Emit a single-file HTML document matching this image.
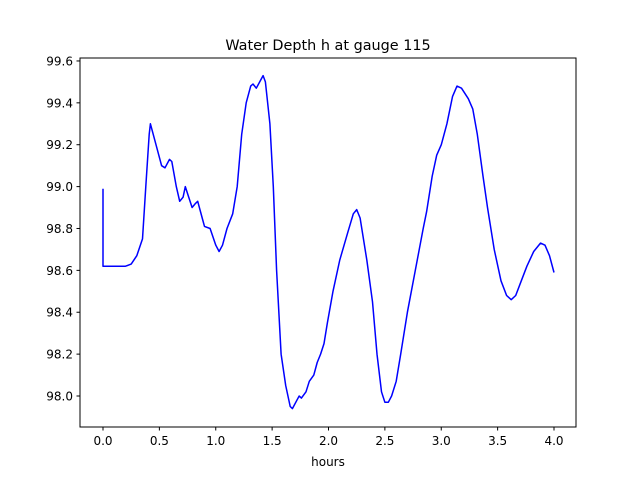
<!DOCTYPE html>
<html><head><meta charset="utf-8"><style>
body{margin:0;background:#fff;}
svg text{font-family:"DejaVu Sans","Liberation Sans",sans-serif;}
</style></head><body>
<svg id="chart" width="640" height="480">
<rect width="640" height="480" fill="#fff"/>
<text x="328" y="50" text-anchor="middle" font-size="14.4">Water Depth h at gauge 115</text>
<rect x="80" y="58" width="496" height="369" fill="none" stroke="#000" stroke-width="1"/>
<g id="xticks"></g>
<g id="yticks"></g>
<text x="328" y="466" text-anchor="middle" font-size="12">hours</text>
<polyline id="line" fill="none" stroke="#0000ff" stroke-width="1.5" stroke-linejoin="round"/>
</svg>
<script>
const hours=[0,0,0.1,0.2,0.25,0.3,0.35,0.38,0.41,0.42,0.47,0.52,0.55,0.59,0.61,0.65,0.68,0.71,0.73,0.76,0.79,0.82,0.84,0.88,0.9,0.95,1.0,1.03,1.06,1.1,1.15,1.19,1.23,1.27,1.31,1.33,1.36,1.39,1.42,1.44,1.48,1.51,1.54,1.58,1.62,1.66,1.68,1.72,1.74,1.76,1.8,1.83,1.87,1.9,1.93,1.96,1.99,2.04,2.1,2.17,2.22,2.25,2.28,2.34,2.39,2.43,2.47,2.5,2.53,2.56,2.6,2.64,2.7,2.77,2.84,2.87,2.92,2.96,3.0,3.05,3.1,3.14,3.18,3.24,3.28,3.32,3.37,3.41,3.47,3.53,3.58,3.62,3.66,3.71,3.76,3.82,3.88,3.92,3.96,4.0];
const depth=[98.99,98.62,98.62,98.62,98.63,98.67,98.75,99.0,99.25,99.3,99.2,99.1,99.09,99.13,99.12,99.0,98.93,98.95,99.0,98.95,98.9,98.92,98.93,98.85,98.81,98.8,98.72,98.69,98.72,98.8,98.87,99.0,99.25,99.4,99.48,99.49,99.47,99.5,99.53,99.5,99.3,99.0,98.6,98.2,98.05,97.95,97.94,97.98,98.0,97.99,98.02,98.07,98.1,98.16,98.2,98.25,98.35,98.5,98.65,98.78,98.87,98.89,98.85,98.65,98.45,98.2,98.02,97.97,97.97,98.0,98.07,98.2,98.4,98.6,98.8,98.88,99.05,99.15,99.2,99.3,99.43,99.48,99.47,99.42,99.37,99.25,99.05,98.9,98.7,98.55,98.48,98.46,98.48,98.55,98.62,98.69,98.73,98.72,98.67,98.59];
const xTicks=["0.0","0.5","1.0","1.5","2.0","2.5","3.0","3.5","4.0"];
const yTicks=["98.0","98.2","98.4","98.6","98.8","99.0","99.2","99.4","99.6"];
const NS="http://www.w3.org/2000/svg";
const xs=v=>103+v*112.75;
const ys=v=>396-(v-98)*209.4;
function mk(t,a,p){const e=document.createElementNS(NS,t);for(const k in a)e.setAttribute(k,a[k]);p.appendChild(e);return e;}
const gx=document.getElementById('xticks'),gy=document.getElementById('yticks');
xTicks.forEach(t=>{const x=xs(parseFloat(t));
const l=mk('line',{x1:x,x2:x,y1:427,y2:430.5,stroke:'#000'},gx);


const tx=mk('text',{x:x,y:445,'text-anchor':'middle','font-size':12},gx);tx.textContent=t;

});
yTicks.forEach(t=>{const y=ys(parseFloat(t));
const l=mk('line',{x1:76.5,x2:80,y1:y,y2:y,stroke:'#000'},gy);


const tx=mk('text',{x:73,y:y+4.5,'text-anchor':'end','font-size':12},gy);tx.textContent=t;

});
document.getElementById('line').setAttribute('points',hours.map((h,i)=>xs(h).toFixed(1)+','+ys(depth[i]).toFixed(1)).join(' '));
</script>
</body></html>
